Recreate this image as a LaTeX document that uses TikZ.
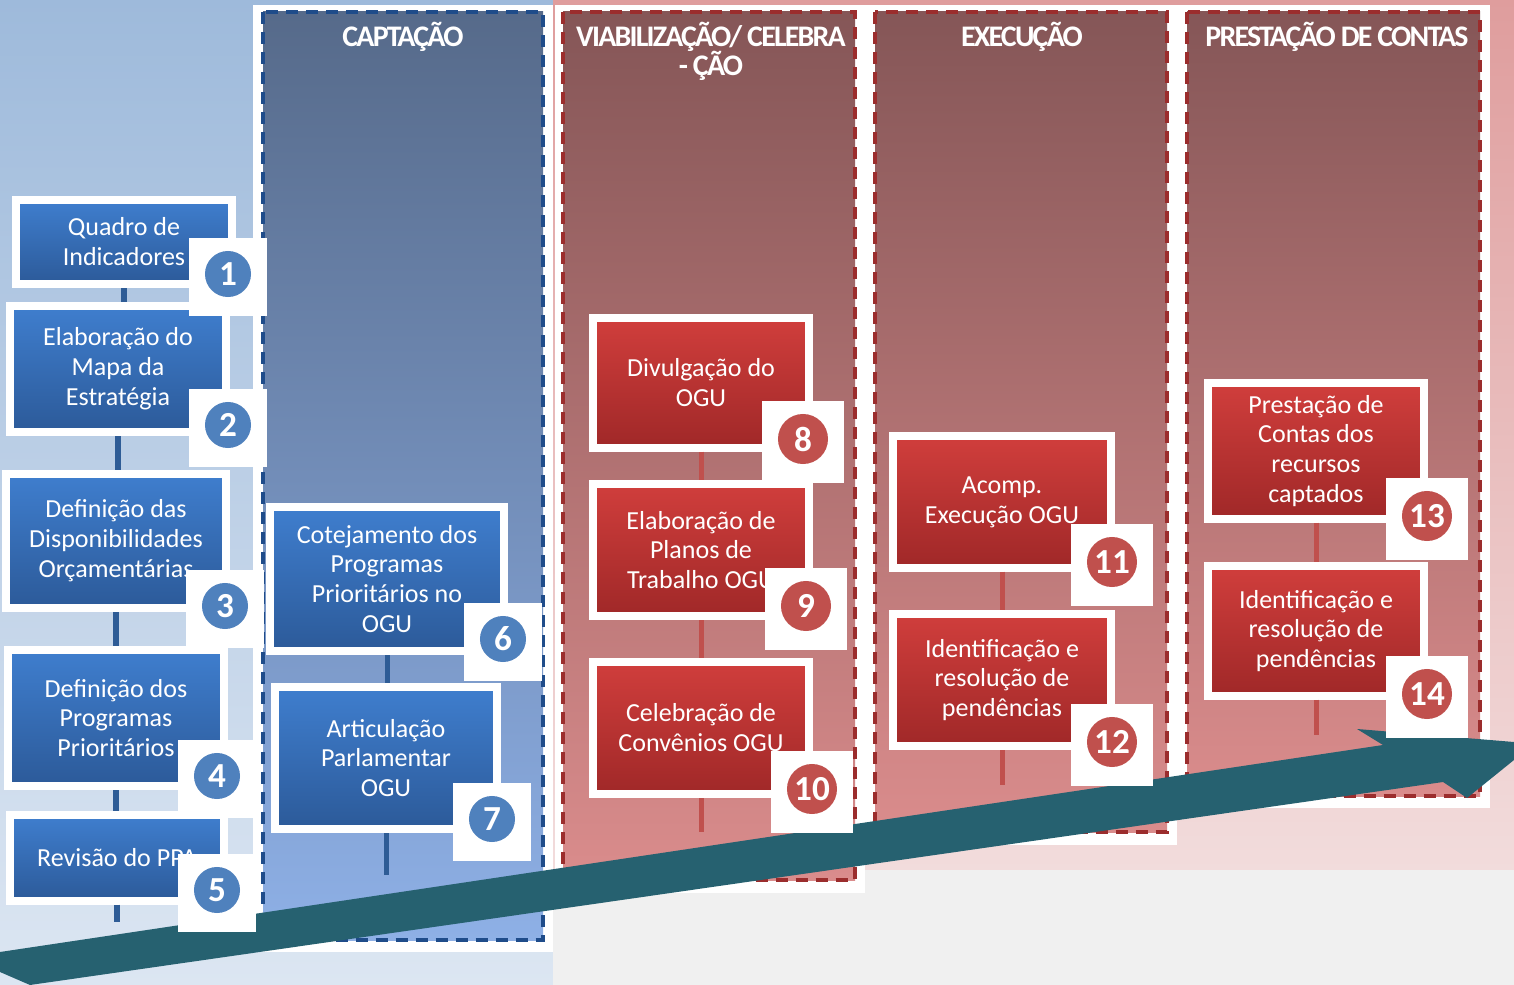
\documentclass[tikz,border=0pt]{standalone}
\usepackage{fontspec}
\setmainfont{Carlito}
\newfontfamily\titlefont[LetterSpace=-6]{Carlito}
\usetikzlibrary{positioning}

\definecolor{bgblue1}{HTML}{9EBADB}
\definecolor{bgblue2}{HTML}{DCE6F2}
\definecolor{bgred1}{HTML}{DF9D9D}
\definecolor{bgred2}{HTML}{F2DCDC}
\definecolor{bggray}{HTML}{F0F0F0}
\definecolor{capcol1}{HTML}{566A8A}
\definecolor{capcol2}{HTML}{8EB0E6}
\definecolor{redcol1}{HTML}{855657}
\definecolor{redcol2}{HTML}{DA8C8C}
\definecolor{capline}{HTML}{1F4C8A}
\definecolor{redline}{HTML}{9B2D2D}
\definecolor{boxblue1}{HTML}{3F7ECE}
\definecolor{boxblue2}{HTML}{2C5A99}
\definecolor{boxred1}{HTML}{D03E3C}
\definecolor{boxred2}{HTML}{A02828}
\definecolor{badgeblue}{HTML}{4F81BD}
\definecolor{badgered}{HTML}{C0504D}
\definecolor{linkblue}{HTML}{2E5C96}
\definecolor{arrowteal}{HTML}{266170}

\newcommand\boxfont{\fontsize{7.4}{8.5}\selectfont}

\tikzset{
  coltitle/.style={anchor=north, align=center, inner sep=0pt, text=white,
    font=\titlefont\bfseries\fontsize{8.5}{8.5}\selectfont},
  capdash/.style={draw=capline, line width=0.04cm, dash pattern=on 0.12cm off 0.08cm},
  reddash/.style={draw=redline, line width=0.04cm, dash pattern=on 0.12cm off 0.08cm},
  bluebox/.style={draw=white, line width=0.08cm, top color=boxblue1, bottom color=boxblue2,
    text=white, align=center, font=\boxfont, inner sep=0pt},
  redbox/.style={bluebox, top color=boxred1, bottom color=boxred2},
  badgebox/.style={fill=white, minimum size=0.77cm, inner sep=0pt},
  bluenum/.style={circle, fill=badgeblue, minimum size=0.46cm, inner sep=0pt,
    text=white, font=\bfseries\fontsize{10}{10}\selectfont},
  rednum/.style={bluenum, fill=badgered, minimum size=0.5cm},
  bluelink/.style={draw=linkblue, line width=0.05cm},
  redlink/.style={draw=badgered, line width=0.05cm}
}

\begin{document}
\begin{tikzpicture}[x=0.01cm,y=-0.01cm]
\useasboundingbox (0,0) rectangle (1514,985);
% fundo
\shade[top color=bgblue1, bottom color=bgblue2] (0,0) rectangle (553,985);
\shade[top color=bgred1, bottom color=bgred2] (553,0) rectangle (1514,870);
\fill[bggray] (553,870) rectangle (1514,985);
% colunas
\fill[white] (253,5) rectangle (553,952);
\fill[white] (555,5) rectangle (865,893);
\fill[white] (865,5) rectangle (1177,845);
\fill[white] (1177,5) rectangle (1490,808);
\shade[top color=capcol1, bottom color=capcol2] (263,12) rectangle (543,940);
\draw[capdash] (263,12) rectangle (543,940);
\foreach \xa/\xb/\yb in {563/855/880,875/1167/832,1187/1480/796} {
  \shade[top color=redcol1, bottom color=redcol2] (\xa,12) rectangle (\xb,\yb);
  \draw[reddash] (\xa,12) rectangle (\xb,\yb);
}
% titulos
\node[coltitle] (Tcap) at (403,21) {CAPTAÇÃO};
\node[coltitle] (Tvia) at (711,21) {VIABILIZAÇÃO/ CELEBRA\\- ÇÃO};
\node[coltitle] (Texe) at (1022,21) {EXECUÇÃO};
\node[coltitle] (Tpre) at (1337,21) {PRESTAÇÃO DE CONTAS};
% seta
\fill[arrowteal] (0,952) -- (1383,745) -- (1357,729) -- (1514,742) -- (1514,760)
  -- (1467,798) -- (1443,782) -- (30,985) -- (0,972) -- cycle;
% caixas azuis
\foreach \n/\x/\y/\w/\h/\t in {
  1/124/242/2.16/0.84/{Quadro de\\Indicadores},
  2/118/369/2.16/1.26/{Elaboração do\\Mapa da\\Estratégia},
  3/116/541/2.19/1.34/{Definição das\\Disponibilidades\\Orçamentárias},
  4/116/718/2.15/1.36/{Definição dos\\Programas\\Prioritários},
  5/117/858/2.13/0.85/{Revisão do PPA},
  6/387/579/2.33/1.44/{Cotejamento dos\\Programas\\Prioritários no\\OGU},
  7/386/758/2.21/1.42/{Articulação\\Parlamentar\\OGU}}
  \node[bluebox, minimum width=\w cm, minimum height=\h cm] (B\n) at (\x,\y) {\t};
% caixas vermelhas
\foreach \n/\x/\y/\w/\h/\t in {
  8/701/383/2.15/1.29/{Divulgação do\\OGU},
  9/701/550/2.15/1.32/{Elaboração de\\Planos de\\Trabalho OGU},
  10/701/728/2.15/1.32/{Celebração de\\Convênios OGU},
  11/1002/502/2.17/1.31/{Acomp.\\Execução OGU},
  12/1002/680/2.17/1.32/{Identificação e\\resolução de\\pendências},
  13/1316/451/2.15/1.35/{Prestação de\\Contas dos\\recursos\\captados},
  14/1316/631/2.15/1.29/{Identificação e\\resolução de\\pendências}}
  \node[redbox, minimum width=\w cm, minimum height=\h cm] (B\n) at (\x,\y) {\t};
% ligacoes
\coordinate (E5) at (117,922);
\coordinate (E7) at (386,875);
\coordinate (E10) at (701,832);
\coordinate (E12) at (1002,785);
\coordinate (E14) at (1316,735);
\foreach \a/\b in {1/2,2/3,3/4,4/5,6/7}
  \draw[bluelink] (B\a.south) -- (B\a.south |- B\b.north);
\foreach \a/\b in {8/9,9/10,11/12,13/14}
  \draw[redlink] (B\a.south) -- (B\a.south |- B\b.north);
\draw[bluelink] (B5.south) -- (E5);
\draw[bluelink] (B7.south) -- (E7);
\draw[redlink] (B10.south) -- (E10);
\draw[redlink] (B12.south) -- (E12);
\draw[redlink] (B14.south) -- (E14);
% numeros
\foreach \n/\x/\y in {1/228/274,2/228/425,3/225/606,4/217/776,5/217/890,6/503/639,7/492/819} {
  \node[badgebox] (W\n) at (\x,\y+3) {};
  \node[bluenum] (N\n) at (\x,\y) {\n};
}
\foreach \n/\x/\y in {8/803/439,9/806/606,10/812/789,11/1112/562,12/1112/742,13/1427/516,14/1427/694} {
  \node[badgebox, minimum size=0.82cm] (W\n) at (\x,\y+3) {};
  \node[rednum] (N\n) at (\x,\y) {\n};
}
\end{tikzpicture}
\end{document}
